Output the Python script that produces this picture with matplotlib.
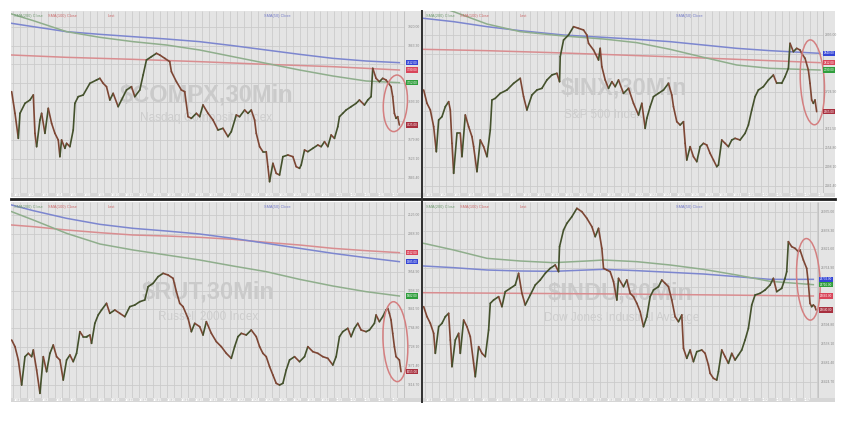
import numpy as np
import matplotlib.pyplot as plt
from matplotlib.collections import LineCollection
from matplotlib.patches import Ellipse
from matplotlib.lines import Line2D

W, H = 859, 436
plt.rcParams['font.family'] = ['Liberation Sans', 'DejaVu Sans']

# ---- 30 min closes (bar, price) ----
compx_price = [(35,7725),(45,7660),(55,7585),(60,7660),(75,7690),(90,7700),(100,7715),
    (105,7600),(110,7560),(120,7640),(125,7660),(135,7600),(145,7675),(155,7630),(165,7600),
    (175,7580),(180,7530),(185,7580),(195,7555),(200,7570),(210,7560),(220,7610),
    (225,7690),(235,7710),(250,7715),(270,7750),(290,7760),(300,7765),(310,7750),(320,7740),
    (330,7700),(340,7720),(355,7680),(365,7700),(380,7730),(395,7740),(405,7710),(420,7730),
    (430,7775),(440,7820),(455,7830),(470,7840),(480,7835),(495,7825),(510,7815),
    (515,7785),(530,7755),(545,7730),(555,7725),(565,7650),(575,7645),(590,7660),(600,7650),
    (610,7685),(625,7660),(640,7640),(655,7610),(670,7615),(685,7590),(695,7605),(710,7655),
    (720,7650),(735,7670),(745,7660),(755,7670),
    (765,7640),(770,7600),(780,7560),(790,7545),(800,7545),
    (805,7500),(810,7455),(820,7510),(830,7480),(840,7475),(850,7530),(865,7535),(880,7530),
    (890,7500),(900,7495),(905,7505),
    (915,7550),(925,7545),(940,7555),(955,7565),(965,7560),(975,7575),(985,7560),(995,7595),
    (1005,7585),(1015,7620),(1020,7650),(1030,7660),(1040,7670),(1055,7680),(1070,7690),
    (1080,7700),(1095,7685),(1105,7700),(1115,7710),
    (1120,7795),(1130,7765),(1140,7755),(1150,7765),(1160,7760),
    (1175,7740),(1180,7710),(1185,7660),(1190,7645),(1195,7650),(1200,7625)]
compx_green = [(35,7958),(100,7938),(200,7905),(300,7888),(400,7875),(500,7865),(600,7850),
    (700,7830),(800,7810),(900,7790),(1000,7772),(1100,7757),(1200,7752)]
compx_blue = [(35,7930),(100,7920),(200,7905),(300,7897),(400,7890),(500,7883),(600,7875),
    (700,7863),(800,7850),(900,7837),(1000,7825),(1100,7817),(1200,7812)]
compx_red = [(35,7835),(200,7828),(400,7822),(600,7815),(800,7807),(1000,7800),(1200,7790)]

inx_price = [(10,2730),(20,2690),(30,2670),(40,2620),(48,2545),(55,2640),(65,2650),(75,2680),
    (85,2695),(90,2670),
    (95,2570),(100,2480),(110,2600),(120,2600),(125,2530),(135,2655),(145,2620),(155,2590),
    (160,2560),(170,2485),(180,2580),(190,2560),(200,2530),(210,2610),
    (215,2700),(225,2705),(240,2720),(260,2730),(280,2750),(300,2765),(310,2710),(320,2670),
    (335,2715),(350,2730),(365,2735),(380,2760),(395,2775),(410,2780),(418,2755),
    (420,2830),(430,2880),(445,2895),(460,2920),(475,2915),(490,2910),(500,2895),
    (505,2870),(520,2850),(535,2820),(540,2855),(545,2800),(555,2760),(565,2735),(575,2755),
    (585,2740),(595,2760),(610,2720),(625,2735),(640,2690),(655,2655),(665,2690),(675,2615),
    (680,2645),(690,2680),(700,2710),(715,2720),(730,2730),(745,2750),(755,2715),
    (760,2680),(770,2635),(780,2625),(790,2635),
    (795,2570),(800,2520),(810,2560),(820,2530),(830,2515),(840,2560),(850,2570),(860,2565),
    (870,2540),(880,2520),(890,2500),(895,2505),
    (905,2580),(915,2570),(925,2560),(935,2580),(945,2585),(960,2580),(975,2600),(985,2625),
    (995,2670),(1005,2710),(1015,2730),(1030,2740),(1045,2760),(1060,2775),(1070,2750),
    (1085,2750),(1095,2770),(1105,2795),
    (1110,2870),(1120,2845),(1130,2855),(1140,2850),(1145,2840),
    (1155,2825),(1165,2790),(1170,2750),(1175,2700),(1180,2690),(1185,2700),(1190,2665)]
inx_green = [(8,2995),(100,2965),(200,2928),(300,2905),(430,2892),(550,2883),(650,2872),
    (750,2852),(850,2828),(950,2805),(1050,2795),(1200,2790)]
inx_blue = [(10,2945),(100,2935),(200,2920),(300,2908),(430,2895),(550,2888),(650,2882),
    (750,2875),(850,2865),(950,2855),(1050,2848),(1200,2840)]
inx_red = [(10,2852),(200,2848),(400,2842),(600,2835),(800,2828),(1000,2820),(1200,2812)]

rut_price = [(35,1750),(45,1730),(55,1690),(65,1615),(75,1700),(85,1710),(95,1700),(100,1720),
    (110,1660),(120,1590),(130,1700),(140,1655),(150,1710),(160,1735),(170,1700),(180,1690),
    (190,1630),(200,1690),(210,1705),(220,1685),(230,1710),(240,1775),(250,1760),(260,1760),
    (270,1765),(275,1740),(285,1800),(295,1825),(305,1840),(320,1860),(330,1830),(345,1840),
    (360,1830),(375,1820),(390,1850),(405,1855),(420,1865),(435,1870),(445,1910),(460,1920),
    (475,1940),(490,1950),(505,1945),(520,1935),(530,1895),(540,1860),(550,1850),(565,1815),
    (575,1775),(585,1800),(600,1790),(610,1765),(620,1805),(635,1770),(650,1745),(665,1730),
    (680,1710),(695,1695),(705,1730),(715,1760),(725,1770),(740,1765),(755,1780),(770,1760),
    (780,1730),(790,1710),(800,1700),(810,1670),(820,1645),(830,1620),(840,1615),(850,1620),
    (860,1660),(870,1690),(885,1700),(900,1685),(915,1700),(925,1730),(940,1715),(955,1710),
    (970,1700),(985,1695),(1000,1675),(1010,1700),(1020,1760),(1030,1775),(1045,1785),
    (1055,1760),(1065,1785),(1075,1800),(1085,1780),(1100,1775),(1110,1780),(1125,1800),
    (1130,1825),(1140,1805),(1150,1820),(1160,1840),(1165,1845),(1170,1830),(1175,1810),
    (1180,1770),(1185,1730),(1190,1700),(1200,1690),(1205,1655)]
rut_green = [(35,2135),(100,2110),(150,2090),(200,2070),(300,2038),(400,2020),(500,2005),
    (600,1990),(700,1972),(800,1955),(900,1932),(1000,1912),(1100,1895),(1200,1882)]
rut_blue = [(35,2155),(100,2138),(200,2115),(300,2097),(400,2085),(500,2077),(600,2068),
    (700,2055),(800,2040),(900,2025),(1000,2010),(1100,1997),(1200,1985)]
rut_red = [(35,2095),(100,2090),(200,2080),(300,2072),(400,2065),(500,2062),(600,2058),
    (700,2052),(800,2043),(900,2035),(1000,2025),(1100,2018),(1200,2012)]

indu_price = [(10,26650),(20,26620),(30,26600),(40,26570),(45,26510),(55,26590),(65,26600),
    (75,26620),(85,26630),
    (90,26550),(95,26470),(105,26550),(115,26570),(120,26510),(130,26610),(140,26590),
    (150,26560),(160,26480),(165,26440),(175,26530),(185,26510),(195,26500),(205,26580),
    (210,26660),(220,26670),(235,26680),(245,26650),(255,26695),(270,26705),(285,26715),
    (295,26750),(305,26690),(315,26655),(330,26685),(345,26715),(360,26730),(375,26750),
    (390,26765),(405,26775),(415,26755),
    (418,26830),(430,26880),(440,26900),(455,26920),(470,26945),(485,26935),(500,26915),
    (515,26890),(525,26860),(535,26885),(545,26825),(550,26765),(560,26760),(570,26755),
    (580,26725),(590,26670),(595,26735),(610,26710),(620,26730),(630,26690),(640,26680),
    (650,26660),(660,26635),(670,26590),(680,26620),(690,26680),(700,26700),(715,26710),
    (725,26730),(735,26720),(745,26710),(755,26670),(765,26620),(775,26605),(785,26625),
    (790,26525),(800,26495),(810,26520),(820,26485),(830,26515),(845,26520),(855,26510),
    (865,26475),
    (870,26450),(880,26435),(890,26430),(895,26455),(905,26520),(915,26500),(925,26480),
    (935,26510),(945,26490),(955,26505),(965,26520),(975,26550),(985,26585),(995,26655),
    (1005,26685),(1020,26690),(1035,26700),(1050,26715),(1060,26735),(1070,26695),
    (1085,26705),(1095,26735),(1100,26755),
    (1105,26845),(1115,26830),(1125,26825),(1135,26815),(1140,26820),
    (1150,26790),(1160,26765),(1165,26720),(1170,26660),(1175,26650),(1180,26655),
    (1185,26650),(1188,26640)]
indu_green = [(10,26840),(100,26820),(200,26795),(300,26787),(400,26782),(500,26787),
    (550,26790),(650,26785),(750,26775),(850,26762),(950,26745),(1050,26726),(1180,26716)]
indu_blue = [(10,26772),(100,26767),(200,26760),(300,26757),(400,26756),(500,26760),
    (550,26762),(650,26758),(750,26753),(850,26748),(950,26740),(1050,26732),(1180,26732)]
indu_red = [(10,26692),(300,26690),(600,26688),(900,26685),(1180,26682)]

titles = ['$COMPX,30Min', '$INX,30Min', '$RUT,30Min', '$INDU,30Min']
subtitles = ['Nasdaq Composite Index', 'S&P 500 Index', 'Russell 2000 Index',
             'Dow Jones Industrial Average']
time_labels = ['10/1', '10/2', '10/3', '10/4', '10/5', '10/8', '10/9', '10/10', '10/11',
               '10/12', '10/15', '10/16', '10/17', '10/18', '10/19', '10/22', '10/23',
               '10/24', '10/25', '10/26', '10/29', '10/30', '10/31', '11/1', '11/2',
               '11/5', '11/6', '11/7', '11/8']

BG = '#e4e4e4'
GRID = '#cbcbcb'
C_BLUE, C_RED, C_GREEN = '#7c86cf', '#d98d90', '#8fae8c'
UP, DOWN = '#44512c', '#7d4634'


def px_axes(fig, left, top, right, bottom):
    return fig.add_axes([left / W, 1 - bottom / H, (right - left) / W, (bottom - top) / H])


def draw_panel(ax, price, green, blue, red, xlim, ylim, grid_end, tag_x, first_tick,
               title, sub, title_xy, sub_xy, ell):
    ax.set_xlim(xlim)
    ax.set_ylim(ylim)
    ax.set_facecolor(BG)
    for s in ax.spines.values():
        s.set_visible(False)
    ax.set_xticks([])
    ax.set_yticks([])

    tags = [(blue[-1][1], '#3445d6'), (red[-1][1], '#d9455a'), (green[-1][1], '#2f9e3c'),
            (price[-1][1], '#a8303f')]
    tag_vals = np.array([t[0] for t in tags])

    gx = np.arange(xlim[0] + 6, grid_end, 21)
    ax.vlines(gx, ylim[0], ylim[1], color=GRID, lw=0.6, zorder=0)
    gy = np.arange(first_tick, ylim[0], -56.7)
    ax.hlines(gy, xlim[0], grid_end, color=GRID, lw=0.6, zorder=0)
    ax.vlines([grid_end], ylim[0], ylim[1], color='#bdbdbd', lw=0.6, zorder=0)
    for v in gy:
        # price-axis labels hidden behind the value tags are left out
        if np.min(np.abs(tag_vals - v)) > 16:
            ax.text(tag_x + 3, v, f'{v:.2f}', fontsize=2.4, color='#8a8a8a', va='center')

    ax.text(*title_xy, title, ha='center', va='center', fontsize=17, fontweight='bold',
            color='#cacaca', zorder=1)
    ax.text(*sub_xy, sub, ha='center', va='center', fontsize=8.5, color='#cdcdcd', zorder=1)

    for ma, c in ((red, C_RED), (blue, C_BLUE), (green, C_GREEN)):
        x, y = zip(*ma)
        ax.plot(x, y, color=c, lw=1.1, zorder=2)

    px, py = np.array(price).T
    pts = np.column_stack([px, py])
    segs = np.stack([pts[:-1], pts[1:]], axis=1)
    cols = [UP if b >= a else DOWN for a, b in zip(py[:-1], py[1:])]
    ax.add_collection(LineCollection(segs, colors=cols, linewidths=1.2, zorder=3,
                                     capstyle='round', joinstyle='round'))

    ax.add_patch(Ellipse(ell[:2], ell[2], ell[3], angle=ell[4], fill=False,
                         edgecolor='#d47f80', lw=1.1, zorder=4))

    for v, c in tags:
        ax.text(tag_x, v, f'{v:.2f}', fontsize=2.2, color='white', va='center', ha='left',
                zorder=5, bbox=dict(boxstyle='square,pad=0.2', fc=c, ec='none'))

    ax.text(xlim[0] + 8, ylim[1] - 8, 'SMA(200) Close', fontsize=2.8, color='#6f9a6f', va='top')
    ax.text(xlim[0] + 110, ylim[1] - 8, 'SMA(100) Close', fontsize=2.8, color='#cc6b6b', va='top')
    ax.text(xlim[0] + 290, ylim[1] - 8, 'Last', fontsize=2.8, color='#cc6b6b', va='top')
    ax.text(xlim[0] + 760, ylim[1] - 8, 'SMA(50) Close', fontsize=2.8, color='#7078c8', va='top')


def draw_strip(ax, xlim, grid_end):
    ax.set_xlim(xlim)
    ax.set_ylim(0, 1)
    ax.set_facecolor('#d6d6d6')
    for s in ax.spines.values():
        s.set_visible(False)
    ax.set_xticks([])
    ax.set_yticks([])
    for i, lab in enumerate(time_labels):
        x = xlim[0] + 20 + i * 42
        if x < grid_end:
            ax.text(x, 0.5, lab, fontsize=2.6, color='white', va='center', ha='center',
                    fontweight='bold')


fig = plt.figure(figsize=(W / 100, H / 100), dpi=100)

a1 = px_axes(fig, 11, 11, 421, 193)
draw_panel(a1, compx_price, compx_green, compx_blue, compx_red, (33, 1265), (7421, 7967),
           1215, 1222, 7920, titles[0], subtitles[0], (620, 7715), (620, 7645),
           (1188, 7690, 72, 170, -4))
draw_strip(px_axes(fig, 11, 193, 421, 197), (33, 1265), 1215)

a2 = px_axes(fig, 423, 11, 835, 193)
draw_panel(a2, inx_price, inx_green, inx_blue, inx_red, (8, 1245), (2421, 2967),
           1210, 1212, 2895, titles[1], subtitles[1], (610, 2735), (550, 2655),
           (1177, 2753, 72, 255, 3))
draw_strip(px_axes(fig, 423, 193, 835, 197), (8, 1245), 1210)

a3 = px_axes(fig, 11, 202, 421, 398)
draw_panel(a3, rut_price, rut_green, rut_blue, rut_red, (33, 1265), (1576, 2164),
           1215, 1222, 2125, titles[2], subtitles[2], (625, 1895), (625, 1818),
           (1188, 1745, 74, 240, 3))
draw_strip(px_axes(fig, 11, 398, 421, 402), (33, 1265), 1215)

a4 = px_axes(fig, 423, 202, 835, 398)
draw_panel(a4, indu_price, indu_green, indu_blue, indu_red, (8, 1245), (26376, 26964),
           1195, 1200, 26935, titles[3], subtitles[3], (600, 26690), (605, 26615),
           (1165, 26732, 70, 245, 3))
draw_strip(px_axes(fig, 423, 398, 835, 402), (8, 1245), 1195)

# dividers between the four charts
fig.add_artist(Line2D([11 / W, 835 / W], [1 - 199.5 / H, 1 - 199.5 / H],
                      color='#1e1e1e', lw=2.0, transform=fig.transFigure))
fig.add_artist(Line2D([422 / W, 422 / W], [1 - 11 / H, 1 - 402 / H],
                      color='#2e2e2e', lw=1.4, transform=fig.transFigure))

fig.savefig('out.png', dpi=100, facecolor='white')
